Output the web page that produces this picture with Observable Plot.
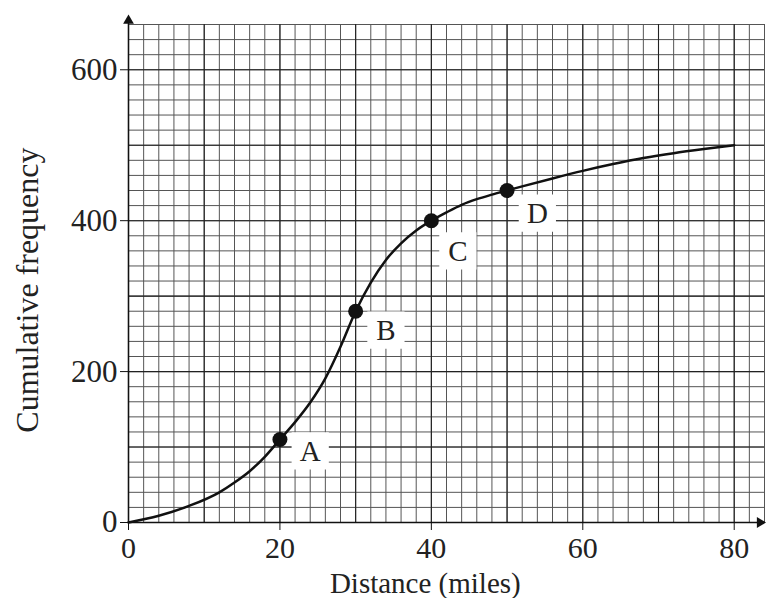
<!DOCTYPE html>
<html>
<head>
<meta charset="utf-8">
<script src="https://cdn.jsdelivr.net/npm/d3@7"></script>
<script src="https://cdn.jsdelivr.net/npm/@observablehq/plot@0.6"></script>
<style>
  html, body { margin: 0; padding: 0; background: #fff; }
  #chart svg { display: block; overflow: visible; }
</style>
</head>
<body>
<div id="chart"></div>
<script>
// ---- data ----
const distance = [0, 4, 8, 12, 14, 16, 18, 20, 22, 24, 26, 28, 30, 32, 34, 36, 38, 40, 42, 44, 46, 48, 50, 52, 56, 60, 64, 68, 72, 76, 80];
const cumFreq  = [0, 9, 22, 40, 53, 68, 87, 110, 133, 159, 191, 233, 280, 318, 348, 370, 387, 400, 411, 421, 428.5, 434.5, 440, 445.5, 456, 466, 475, 483, 489.5, 495, 500];

const pointX = [20, 30, 40, 50];
const pointY = [110, 280, 400, 440];
const pointLabel = ["A", "B", "C", "D"];
const labelX = [24, 34, 43.5, 54];
const labelY = [95, 255, 360, 410];

const xTicks = [0, 20, 40, 60, 80];
const yTicks = [0, 200, 400, 600];
const xDomain = [0, 84];
const yDomain = [0, 660];
const xTitle = "Distance (miles)";
const yTitle = "Cumulative frequency";

// grid positions (graph paper)
const gridXMinor = d3.range(0, 85, 2);
const gridYMinor = d3.range(0, 661, 20);
const gridXMajor = d3.range(0, 85, 10);
const gridYMajor = d3.range(0, 661, 100);

const curve = distance.map((d, i) => ({x: d, y: cumFreq[i]}));
const points = pointX.map((d, i) => ({x: d, y: pointY[i], label: pointLabel[i], lx: labelX[i], ly: labelY[i]}));

const font = "'Liberation Serif', 'Times New Roman', Times, serif";

const chart = Plot.plot({
  width: 766,
  height: 598,
  marginLeft: 128,
  marginRight: 2,
  marginTop: 24,
  marginBottom: 76,
  style: {fontFamily: font, background: "#fff", color: "#222"},
  x: {domain: xDomain},
  y: {domain: yDomain},
  marks: [
    // graph paper
    Plot.ruleX(gridXMinor, {stroke: "#555", strokeWidth: 1}),
    Plot.ruleY(gridYMinor, {stroke: "#555", strokeWidth: 1}),
    Plot.ruleX(gridXMajor, {stroke: "#222", strokeWidth: 1.1}),
    Plot.ruleY(gridYMajor, {stroke: "#222", strokeWidth: 1.1}),
    // label background boxes
    Plot.dot(points, {x: "lx", y: "ly", symbol: "square", r: 21, fill: "#fff", stroke: "none"}),
    // axes lines with arrowheads
    Plot.ruleX([0], {y1: 0, y2: 668, stroke: "#111", strokeWidth: 1.5}),
    Plot.ruleY([0], {x1: 0, x2: 84, stroke: "#111", strokeWidth: 1.5}),
    Plot.dot([0], {x: 0, y: 665, symbol: "triangle", r: 4, fill: "#111", stroke: "none"}),
    Plot.dot([0], {x: 83.4, y: 0, symbol: "triangle", r: 4, rotate: 90, fill: "#111", stroke: "none"}),
    // curve
    Plot.line(curve, {x: "x", y: "y", curve: "monotone-x", stroke: "#111", strokeWidth: 2.5}),
    Plot.dot(points, {x: "x", y: "y", r: 7.5, fill: "#111", stroke: "none"}),
    Plot.text(points, {x: "lx", y: "ly", text: "label", fontSize: 29, fill: "#222", fontFamily: font, dy: 1}),
    // axes
    Plot.axisX({ticks: xTicks, tickSize: 8, tickPadding: 6, fontSize: 30, label: null, stroke: "#111", fill: "#222"}),
    Plot.axisY({ticks: yTicks, tickSize: 8, tickPadding: 3, fontSize: 31, label: null, stroke: "#111", fill: "#222"}),
    // axis titles
    Plot.text([xTitle], {x: 39.2, frameAnchor: "bottom", lineAnchor: "middle", textAnchor: "middle", dy: 61, fontSize: 29, fill: "#222", text: d => d}),
    Plot.text([yTitle], {y: 308, frameAnchor: "left", lineAnchor: "middle", textAnchor: "middle", dx: -101, rotate: -90, fontSize: 32, fill: "#222", text: d => d})
  ]
});
document.getElementById("chart").appendChild(chart);
</script>
</body>
</html>
